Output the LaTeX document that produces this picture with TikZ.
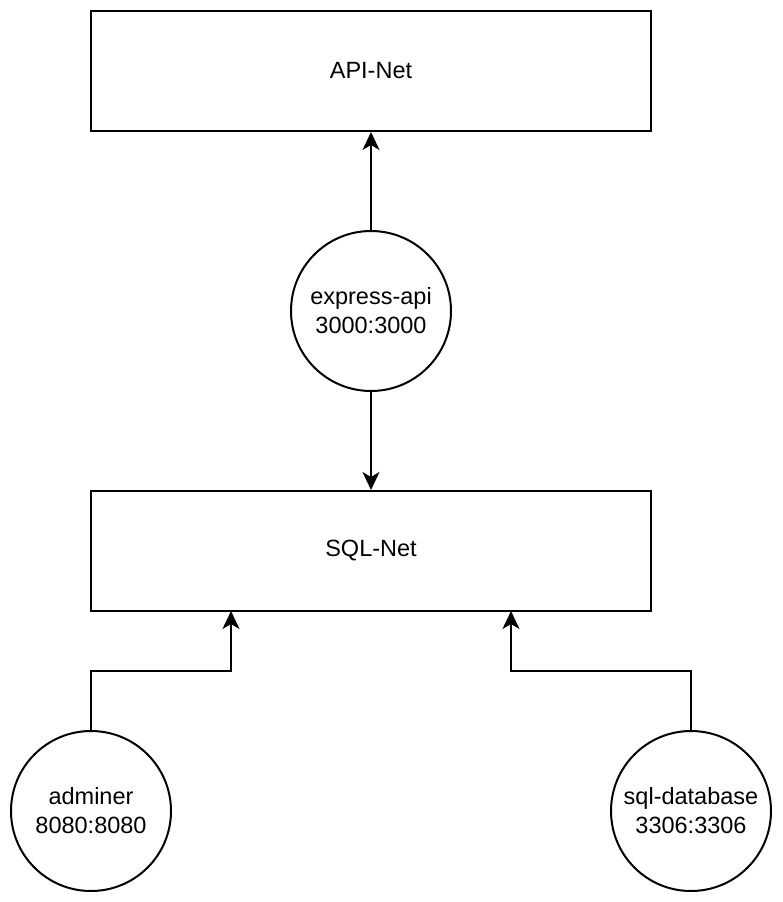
\documentclass[tikz,border=0pt]{standalone}
\usepackage{fontspec}
\setmainfont{Liberation Sans}
\usetikzlibrary{arrows.meta}
\begin{document}
\begin{tikzpicture}[x=1pt,y=-1pt,
  netbox/.style={draw=black,line width=2pt,minimum width=560pt,minimum height=120pt,inner sep=0pt,font=\fontsize{23.5}{29}\selectfont},
  svc/.style={draw=black,circle,line width=2pt,minimum size=160pt,inner sep=0pt,align=center,font=\fontsize{23.5}{29}\selectfont},
  conn/.style={line width=2pt,-{Stealth[length=18pt,width=17pt,inset=5pt]}}]
\useasboundingbox (0,0) rectangle (782,902);
\node[netbox] (api) at (371,71) {API-Net};
\node[netbox] (sql) at (371,551) {SQL-Net};
\node[svc] (express) at (371,311) {express-api\\3000:3000};
\node[svc] (adminer) at (91,811) {adminer\\8080:8080};
\node[svc] (db) at (691,811) {sql-database\\3306:3306};
\coordinate (sqlL) at (231,611);
\coordinate (sqlR) at (511,611);
\draw[conn] (express.north) -- (api.south);
\draw[conn] (express.south) -- (sql.north);
\draw[conn] (adminer.north) |- (231,671) -- (sqlL);
\draw[conn] (db.north) |- (511,671) -- (sqlR);
\end{tikzpicture}
\end{document}
